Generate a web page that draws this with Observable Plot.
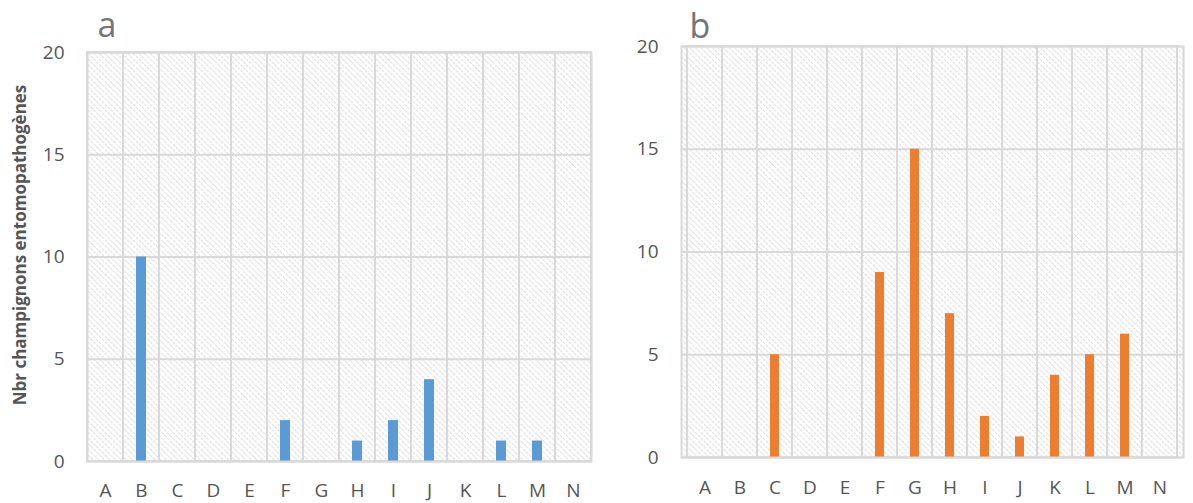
<!DOCTYPE html>
<html>
<head>
<meta charset="utf-8">
<script src="https://cdn.jsdelivr.net/npm/d3@7"></script>
<script src="https://cdn.jsdelivr.net/npm/@observablehq/plot@0.6"></script>
<style>
  html, body { margin: 0; padding: 0; background: #fff; }
  #wrap { display: flex; width: 1193px; height: 503px; }
  svg { display: block; }
</style>
</head>
<body>
<svg width="0" height="0" style="position:absolute">
  <defs>
    <pattern id="hatch" patternUnits="userSpaceOnUse" width="4" height="4" patternTransform="rotate(-45)">
      <line x1="0" y1="0" x2="0" y2="4" stroke="#c4c4c4" stroke-width="1.1" stroke-dasharray="2.2 0.8"></line>
    </pattern>
  </defs>
</svg>
<div id="wrap"></div>
<script>
const categories = ["A","B","C","D","E","F","G","H","I","J","K","L","M","N"];
const valuesA = [0,10,0,0,0,2,0,1,2,4,0,1,1,0];
const valuesB = [0,0,5,0,0,9,15,7,2,1,4,5,6,0];
const yTicks = [0,5,10,15,20];
const panelLabels = ["a","b"];
const yTitle = "Nbr champignons entomopathogènes";
const colors = ["#5b9bd5", "#ed7d31"];

const font = "'Open Sans', sans-serif";
const grid = "#d9d9d9";
const textColor = "#555555";

function panel(values, opts) {
  const data = categories.map((c, i) => ({cat: c, v: values[i]}));
  const marks = [
    Plot.frame({fill: "url(#hatch)"}),
    Plot.cell(categories, {x: d => d, fill: "none", stroke: grid, strokeWidth: 2, inset: 0}),
    Plot.gridY(yTicks, {stroke: grid, strokeOpacity: 1, strokeWidth: 2}),
    Plot.barY(data, {x: "cat", y: "v", fill: opts.color, insetLeft: 13, insetRight: 13}),
    Plot.frame({stroke: grid, strokeWidth: 2}),
    Plot.text(yTicks, {y: d => d, text: d => String(d), frameAnchor: "left", dx: -23, textAnchor: "end", lineAnchor: "middle", fontSize: 19, fill: textColor, fontFamily: font}),
    Plot.text(categories, {x: d => d, text: d => d, frameAnchor: "bottom", dy: opts.xPad, lineAnchor: "top", textAnchor: "middle", fontSize: 19, fill: textColor, fontFamily: font}),
    Plot.text([opts.letter], {frameAnchor: "top-left", dx: opts.ldx, dy: opts.ldy, lineAnchor: "bottom", textAnchor: "start", fontSize: 34, fill: "#757575", fontFamily: font})
  ];
  if (opts.title) {
    marks.push(Plot.text([yTitle], {frameAnchor: "left", dx: -67, dy: -12, rotate: -90, textAnchor: "middle", lineAnchor: "middle", fontSize: 17, fontWeight: "bold", fill: textColor, fontFamily: font}));
  }
  return Plot.plot({
    width: opts.width,
    height: 503,
    marginLeft: opts.ml,
    marginRight: opts.mr,
    marginTop: opts.mt,
    marginBottom: opts.mb,
    style: {fontFamily: font, background: "#fff", overflow: "visible"},
    x: {domain: categories, padding: 0, axis: null},
    y: {domain: [0, 20], axis: null},
    marks
  });
}

const wrap = document.getElementById("wrap");
wrap.appendChild(panel(valuesA, {width: 596, ml: 87, mr: 5, mt: 52, mb: 42, color: colors[0], letter: panelLabels[0], ldx: 10, ldy: -16, xPad: 22, title: true}));
wrap.appendChild(panel(valuesB, {width: 597, ml: 85, mr: 10, mt: 46, mb: 46, color: colors[1], letter: panelLabels[1], ldx: 8, ldy: -9, xPad: 23, title: false}));
</script>
</body>
</html>
